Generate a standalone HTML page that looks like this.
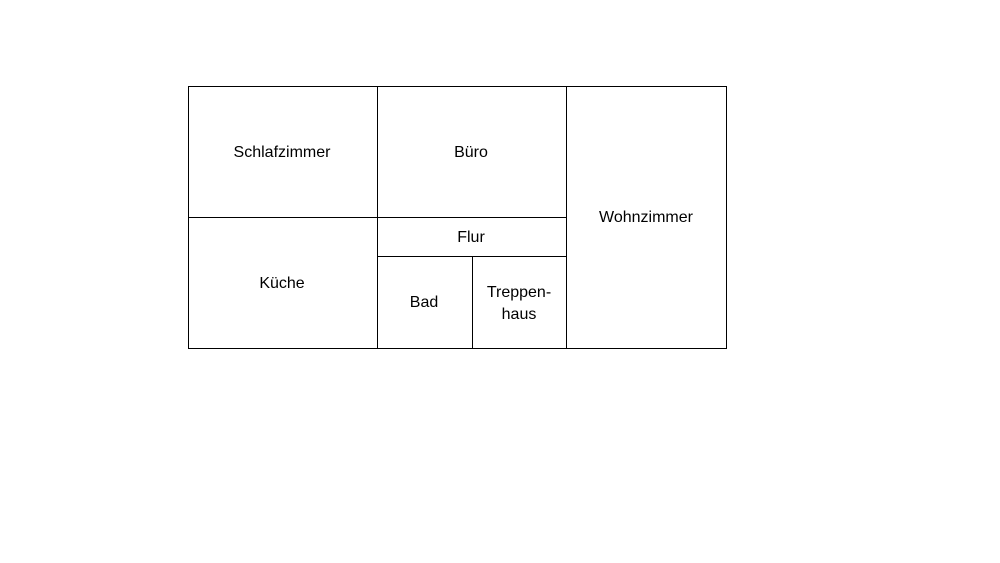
<!DOCTYPE html>
<html><head><meta charset="utf-8"><style>
html,body{margin:0;padding:0;background:#fff;}
</style></head><body>
<svg width="1000" height="563" xmlns="http://www.w3.org/2000/svg" style="display:block">
<g fill="none" stroke="#000" stroke-width="1">
<rect x="188.5" y="86.5" width="538" height="262"/>
<line x1="377.5" y1="86" x2="377.5" y2="348"/>
<line x1="566.5" y1="86" x2="566.5" y2="348"/>
<line x1="188" y1="217.5" x2="566" y2="217.5"/>
<line x1="377" y1="256.5" x2="566" y2="256.5"/>
<line x1="472.5" y1="256" x2="472.5" y2="348"/>
</g>
<g font-family="Liberation Sans, sans-serif" font-size="16" fill="#000" text-anchor="middle">
<text x="282" y="157">Schlafzimmer</text>
<text x="471" y="157">Büro</text>
<text x="646" y="222">Wohnzimmer</text>
<text x="471" y="242">Flur</text>
<text x="282" y="288">Küche</text>
<text x="424" y="307">Bad</text>
<text x="519" y="297">Treppen-</text>
<text x="519" y="319">haus</text>
</g>
</svg>
</body></html>
